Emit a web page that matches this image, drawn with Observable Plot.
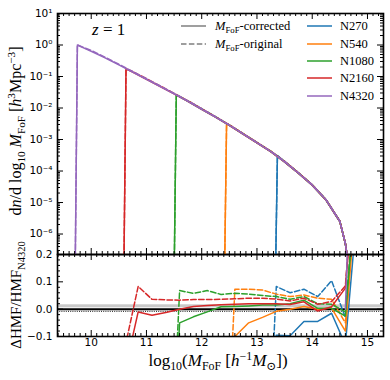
<!DOCTYPE html>
<html><head><meta charset="utf-8">
<script src="https://cdn.jsdelivr.net/npm/d3@7"></script>
<script src="https://cdn.jsdelivr.net/npm/@observablehq/plot@0.6"></script>
<style>
html,body{margin:0;padding:0;background:#fff;}
#chart{position:relative;width:390px;height:380px;overflow:hidden;background:#fff;}
#chart svg{position:absolute;left:0;overflow:visible;background:transparent;}
</style></head><body><div id="chart"></div>
<script>
// ---------------- data ----------------
const sims = ["N270", "N540", "N1080", "N2160", "N4320"];
const simColors = ["#1f77b4", "#ff7f0e", "#2ca02c", "#d62728", "#9467bd"];

// top panel: halo mass function (shared curve)
const massTop = [9.75, 10.0, 10.25, 10.5, 10.75, 11.0, 11.25, 11.5, 11.75, 12.0, 12.25, 12.5, 12.75, 13.0, 13.25, 13.5, 13.75, 14.0, 14.25, 14.5, 14.6, 14.7];
const hmfCorrected = [1.0, 0.63, 0.39, 0.234, 0.138, 0.081, 0.048, 0.028, 0.0162, 0.0091, 0.0051, 0.0028, 0.00148, 7.8e-4, 4.1e-4, 1.95e-4, 8.5e-5, 3.55e-5, 1.2e-5, 2.5e-6, 5e-7, 3.2e-8];
const hmfOriginal  = [1.03, 0.67, 0.41, 0.245, 0.144, 0.085, 0.050, 0.0292, 0.0169, 0.0095, 0.0053, 0.0029, 0.00154, 8.1e-4, 4.25e-4, 2.02e-4, 8.8e-5, 3.65e-5, 1.23e-5, 2.55e-6, 5e-7, 3.2e-8];
// first (lowest-mass) point of each simulation and the empty bin just below it
const startMass = [13.37, 12.45, 11.54, 10.63, 9.75];
const startHmf  = [3.1e-4, 0.0032, 0.026, 0.175, 1.0];
const emptyBinHmf = 1e-9;

// bottom panel: relative difference to N4320, bins of 0.25 dex
const massBins = [10.35, 10.6, 10.85, 11.1, 11.35, 11.6, 11.85, 12.1, 12.35, 12.6, 12.85, 13.1, 13.35, 13.6, 13.85, 14.1, 14.35, 14.6, 14.85];
const _ = null;
const diffCorrected = {
  N270:  [_, _, _, _, _, _, _, _, _, _, _, -1, -0.095, -0.097, -0.045, -0.045, -0.015, -0.13, 0.45],
  N540:  [_, _, _, _, _, _, _, _, -1, -0.1, -0.05, -0.03, -0.008, 0.0, 0.01, 0.0, 0.004, -0.08, 0.55],
  N1080: [_, _, _, _, -1, -0.05, -0.028, -0.01, 0.009, 0.01, 0.012, 0.015, 0.015, 0.02, 0.033, 0.003, 0.003, -0.025, 0.6],
  N2160: [-1, -0.235, -0.01, -0.022, -0.012, 0.0, 0.01, 0.013, 0.016, 0.018, 0.02, 0.02, 0.02, 0.017, 0.027, -0.007, 0.009, 0.077, 0.7],
  N4320: [_, _, _, _, _, _, _, _, _, _, _, _, _, _, _, _, _, 0.0, 1.5]
};
const diffOriginal = {
  N270:  [_, _, _, _, _, _, _, _, _, _, _, -1, 0.083, 0.06, 0.073, 0.046, 0.104, -0.03, 0.6],
  N540:  [_, _, _, _, _, _, _, _, -1, 0.073, 0.073, 0.07, 0.055, 0.046, 0.052, 0.04, 0.036, -0.05, 0.6],
  N1080: [_, _, _, _, -1, 0.068, 0.058, 0.068, 0.054, 0.058, 0.055, 0.05, 0.046, 0.036, 0.046, 0.02, 0.018, -0.01, 0.6],
  N2160: [-1, -0.15, 0.083, 0.036, 0.034, 0.033, 0.035, 0.035, 0.036, 0.038, 0.04, 0.04, 0.037, 0.03, 0.04, 0.018, 0.028, 0.085, 0.75]
};
const refBand = [0.005, 0.016];
const refZero = [0];
const refDotted = [-0.008];

// axes
const xDomain = [9.39, 15.29];
const xTicks = [10, 11, 12, 13, 14, 15];
const xTickLabels = ["10", "11", "12", "13", "14", "15"];
const yTopDomain = [Math.pow(10, -6.65), 10];
const yTopTicks = [10, 1, 0.1, 0.01, 1e-3, 1e-4, 1e-5, 1e-6];
const yTopTickLabels = ["10\u00b9", "10\u2070", "10\u207b\u00b9", "10\u207b\u00b2", "10\u207b\u00b3", "10\u207b\u2074", "10\u207b\u2075", "10\u207b\u2076"];
const yBotDomain = [-0.1, 0.2];
const yBotTicks = [-0.1, 0.0, 0.1, 0.2];
const yBotTickLabels = ["\u22120.1", "0.0", "0.1", "0.2"];

// ---------------- layout ----------------
const W = 390, ML = 57, MR = 7;
const innerW = W - ML - MR;
const TOP_H = 254, TOP_MT = 13;
const topInnerH = TOP_H - TOP_MT;
const BOT_TOP = 240, BOT_H = 140, BOT_MT = 14, BOT_MB = 44;
const botInnerH = BOT_H - BOT_MT - BOT_MB;
const MAJ = 6, MIN = 3;

const xMinor = d3.range(94, 153).map(v => v / 10).filter(v => v > xDomain[0] && v < xDomain[1] && Math.abs(v - Math.round(v)) > 1e-6);
const yTopMinor = [];
for (let e = -7; e <= 0; e++) for (let k = 2; k <= 9; k++) { const v = k * Math.pow(10, e); if (v > yTopDomain[0] && v < yTopDomain[1]) yTopMinor.push(v); }
const yBotMinor = d3.range(-5, 11).map(v => v * 0.02).filter(v => Math.abs(v * 10 - Math.round(v * 10)) > 1e-6);

function frameTicks(innerH) {
  const o = {stroke: "black", strokeWidth: 1};
  return [
    Plot.tickX(xTicks, {x: d => d, insetTop: innerH - MAJ, ...o}),
    Plot.tickX(xTicks, {x: d => d, insetBottom: innerH - MAJ, ...o}),
    Plot.tickX(xMinor, {x: d => d, insetTop: innerH - MIN, ...o}),
    Plot.tickX(xMinor, {x: d => d, insetBottom: innerH - MIN, ...o})
  ];
}
function yFrameTicks(major, minor) {
  const o = {stroke: "black", strokeWidth: 1};
  return [
    Plot.tickY(major, {y: d => d, insetRight: innerW - MAJ, ...o}),
    Plot.tickY(major, {y: d => d, insetLeft: innerW - MAJ, ...o}),
    Plot.tickY(minor, {y: d => d, insetRight: innerW - MIN, ...o}),
    Plot.tickY(minor, {y: d => d, insetLeft: innerW - MIN, ...o})
  ];
}

// top-panel series
function topSeries(i, values) {
  const pts = [{m: startMass[i] - 0.05, v: emptyBinHmf}, {m: startMass[i], v: startHmf[i]}];
  massTop.forEach((m, j) => { if (m > startMass[i] + 0.02) pts.push({m, v: values[j]}); });
  return pts;
}
const topMarks = [];
sims.forEach((s, i) => {
  topMarks.push(Plot.line(topSeries(i, hmfCorrected), {x: "m", y: "v", stroke: simColors[i], strokeWidth: 1.5, clip: true}));
  topMarks.push(Plot.line(topSeries(i, hmfOriginal), {x: "m", y: "v", stroke: simColors[i], strokeWidth: 1.5, strokeDasharray: "5.5,2.4", clip: true}));
});

const fontStyle = {background: "transparent", fontFamily: "'DejaVu Sans', sans-serif", fontSize: "10.5px", color: "black"};

const topPlot = Plot.plot({
  width: W, height: TOP_H,
  marginTop: TOP_MT, marginBottom: 0, marginLeft: ML, marginRight: MR,
  style: fontStyle,
  x: {domain: xDomain, axis: null},
  y: {type: "log", domain: yTopDomain},
  marks: [
    Plot.axisY({ticks: yTopTicks, tickFormat: d => yTopTickLabels[yTopTicks.indexOf(d)], tickSize: 0, tickPadding: 5, label: null, fontSize: 10.5}),
    ...topMarks,
    ...frameTicks(topInnerH),
    ...yFrameTicks(yTopTicks, yTopMinor),
    Plot.frame({stroke: "black", strokeWidth: 1.6})
  ]
});

// bottom-panel series
function botSeries(arr) {
  const pts = [];
  massBins.forEach((m, j) => { if (arr[j] !== null) pts.push({m, v: arr[j]}); });
  return pts;
}
const botMarks = [];
sims.forEach((s, i) => {
  if (diffCorrected[s]) botMarks.push(Plot.line(botSeries(diffCorrected[s]), {x: "m", y: "v", stroke: simColors[i], strokeWidth: 1.5, clip: true}));
  if (diffOriginal[s]) botMarks.push(Plot.line(botSeries(diffOriginal[s]), {x: "m", y: "v", stroke: simColors[i], strokeWidth: 1.5, strokeDasharray: "5.5,2.4", clip: true}));
});

const botPlot = Plot.plot({
  width: W, height: BOT_H,
  marginTop: BOT_MT, marginBottom: BOT_MB, marginLeft: ML, marginRight: MR,
  style: fontStyle,
  x: {domain: xDomain},
  y: {domain: yBotDomain},
  marks: [
    Plot.axisX({ticks: xTicks, tickFormat: d => xTickLabels[xTicks.indexOf(d)], tickSize: 0, tickPadding: 2, label: null, fontSize: 10.5}),
    Plot.axisY({ticks: yBotTicks, tickFormat: d => yBotTickLabels[yBotTicks.indexOf(d)], tickSize: 0, tickPadding: 5, label: null, fontSize: 10.5}),
    Plot.rect([refBand], {y1: d => d[0], y2: d => d[1], fill: "#bbbbbb", fillOpacity: 0.8}),
    Plot.ruleY(refZero, {stroke: "black", strokeWidth: 2}),
    Plot.ruleY(refDotted, {stroke: "black", strokeWidth: 0.9, strokeDasharray: "1,1.2"}),
    ...botMarks,
    ...frameTicks(botInnerH),
    ...yFrameTicks(yBotTicks, yBotMinor),
    Plot.frame({stroke: "black", strokeWidth: 1.6})
  ]
});

const chart = document.getElementById("chart");
topPlot.style.top = "0px";
botPlot.style.top = BOT_TOP + "px";
chart.appendChild(botPlot);
chart.appendChild(topPlot);

// ---------------- text with sub/superscripts ----------------
const SERIF = "'Liberation Serif', 'DejaVu Serif', serif";
function rich(textSel, parts, base) {
  let shift = 0;
  for (const [t, style = ""] of parts) {
    const sub = style.includes("sub"), sup = style.includes("sup");
    const target = sub ? 0.25 * base : sup ? -0.38 * base : 0;
    const ts = textSel.append("tspan").text(t);
    if (target - shift !== 0) ts.attr("dy", target - shift);
    shift = target;
    if (sub || sup) ts.attr("font-size", base * 0.7);
    if (style.startsWith("i")) ts.attr("font-style", "italic");
  }
}

const topSvg = d3.select(topPlot);
const botSvg = d3.select(botPlot);

// z label
rich(topSvg.append("text").attr("x", 92).attr("y", 35).attr("text-anchor", "start").attr("font-family", SERIF).attr("font-size", 17).attr("fill", "black"),
  [["z", "i"], [" = 1"]], 17);

// legend
const legendRowsY = [26, 44, 61, 78, 96];
const legLeft = topSvg.append("g");
["", "5.5,2.4"].forEach((dash, k) => {
  const y = legendRowsY[k];
  legLeft.append("line").attr("x1", 181).attr("x2", 206).attr("y1", y).attr("y2", y)
    .attr("stroke", "#7f7f7f").attr("stroke-width", 1.5).attr("stroke-dasharray", dash || null);
  rich(legLeft.append("text").attr("x", 215).attr("y", y + 4).attr("text-anchor", "start").attr("font-family", SERIF).attr("font-size", 12.5).attr("fill", "black"),
    [["M", "i"], ["FoF", "sub"], [k === 0 ? "-corrected" : "-original"]], 12.5);
});
sims.forEach((s, i) => {
  const y = legendRowsY[i];
  topSvg.append("line").attr("x1", 307).attr("x2", 332).attr("y1", y).attr("y2", y)
    .attr("stroke", simColors[i]).attr("stroke-width", 1.5);
  topSvg.append("text").attr("x", 340).attr("y", y + 4).attr("text-anchor", "start").attr("font-family", SERIF).attr("font-size", 12.5).attr("fill", "black").text(s);
});

// y label top
rich(topSvg.append("text").attr("transform", "translate(21,131) rotate(-90)").attr("text-anchor", "middle")
  .attr("font-family", SERIF).attr("font-size", 16).attr("fill", "black"),
  [["d"], ["n", "i"], ["/d log"], ["10", "sub"], [" "], ["M", "i"], ["FoF", "sub"], [" ["], ["h", "i"], ["3", "sup"], ["Mpc"], ["\u22123", "sup"], ["]"]], 16);

// y label bottom
rich(botSvg.append("text").attr("transform", `translate(21,${295 - BOT_TOP}) rotate(-90)`).attr("text-anchor", "middle")
  .attr("font-family", SERIF).attr("font-size", 15).attr("fill", "black"),
  [["\u0394HMF/HMF"], ["N4320", "sub"]], 15);

// x label
rich(botSvg.append("text").attr("x", 218).attr("y", 366 - BOT_TOP).attr("text-anchor", "middle")
  .attr("font-family", SERIF).attr("font-size", 17).attr("fill", "black"),
  [["log"], ["10", "sub"], ["("], ["M", "i"], ["FoF", "sub"], [" ["], ["h", "i"], ["\u22121", "sup"], ["M", "i"], ["\u2299", "sub"], ["])"]], 17);
</script>
</body></html>
